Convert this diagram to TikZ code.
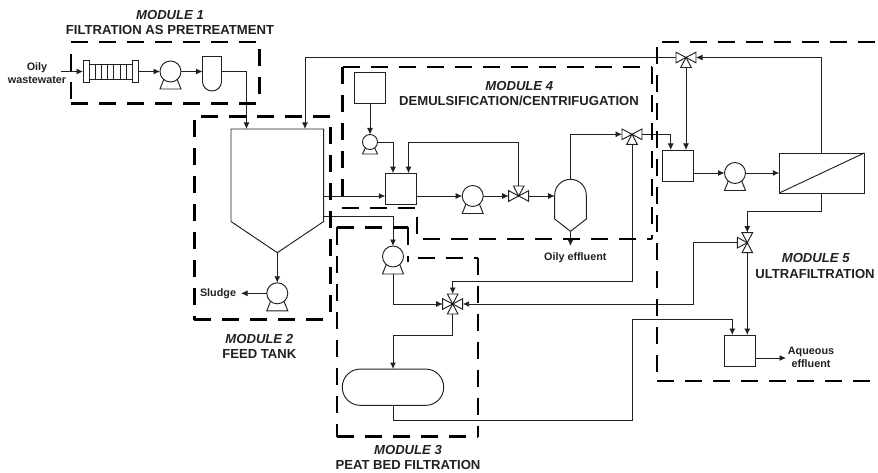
\documentclass[tikz,border=0pt]{standalone}
\usepackage{fontspec}
\setmainfont{Liberation Sans}
\usetikzlibrary{arrows.meta}
\definecolor{ink}{gray}{0.13}
\tikzset{
  x=1pt,y=-1pt,
  pipe/.style={draw=ink,line width=0.95pt},
  flow/.style={pipe,-{Latex[length=6.5pt,width=6pt]}},
  equip/.style={draw=ink,line width=0.95pt,fill=white,inner sep=0pt,outer sep=0pt},
  boxnode/.style={equip,rectangle,minimum width=31pt,minimum height=31pt},
  modline/.style={draw=black,line width=2.2pt,dash pattern=on 17pt off 11pt},
  modtitle/.style={font=\bfseries\fontsize{13.1}{15}\selectfont,text=ink,align=center,inner sep=0pt},
  modnum/.style={font=\bfseries\itshape\fontsize{13.1}{15}\selectfont,text=ink,inner sep=0pt},
  smalltext/.style={font=\bfseries\fontsize{10.8}{13.2}\selectfont,text=ink,align=center,inner sep=0pt},
  valvetri/.style={draw=ink,line width=0.95pt,fill=white},
}
\newcommand{\bigpump}[3]{%
  \draw[equip] (#2-6.5,#3+7.5) -- (#2+6.5,#3+7.5) -- (#2+10.5,#3+17.5) -- (#2-10.5,#3+17.5) -- cycle;
  \node[equip,circle,minimum size=21pt] (#1) at (#2,#3) {};
  \coordinate (#1-base) at (#2,#3+17.5);
}
\newcommand{\smallpump}[3]{%
  \draw[equip] (#2-4.5,#3+5.5) -- (#2+4.5,#3+5.5) -- (#2+7.5,#3+12) -- (#2-7.5,#3+12) -- cycle;
  \node[equip,circle,minimum size=15pt] (#1) at (#2,#3) {};
}
\newcommand{\valvel}[3]{\draw[valvetri] (#2,#3) -- (#2-10,#3-5.3) -- (#2-10,#3+5.3) -- cycle; \coordinate (#1-l) at (#2-10,#3);}
\newcommand{\valver}[3]{\draw[valvetri] (#2,#3) -- (#2+10,#3-5.3) -- (#2+10,#3+5.3) -- cycle; \coordinate (#1-r) at (#2+10,#3);}
\newcommand{\valvet}[3]{\draw[valvetri] (#2,#3) -- (#2-5.3,#3-10) -- (#2+5.3,#3-10) -- cycle; \coordinate (#1-t) at (#2,#3-10);}
\newcommand{\valveb}[3]{\draw[valvetri] (#2,#3) -- (#2-5.3,#3+10) -- (#2+5.3,#3+10) -- cycle; \coordinate (#1-b) at (#2,#3+10);}
\begin{document}
\begin{tikzpicture}
\useasboundingbox (0,0) rectangle (878,473);
\fill[white] (0,0) rectangle (878,473);

% ---------- equipment
% module 1
\draw[equip] (89,64) rectangle (132.5,79.5);
\foreach \vx in {95,101.5,107.5,113.5,120,126} \draw[pipe] (\vx,64) -- (\vx,79.5);
\node[equip,rectangle,minimum width=6pt,minimum height=21.5pt] (flangeL) at (86,71.5) {};
\node[equip,rectangle,minimum width=6pt,minimum height=21.5pt] (flangeR) at (135.5,71.5) {};
\bigpump{p1}{170.5}{71.5}
\draw[equip] (202.5,56.5) [rounded corners=9.5pt] -- (202.5,91) -- (221.5,91) [sharp corners] -- (221.5,56.5) -- cycle;
\coordinate (v1in) at (202.5,71.5);
\coordinate (v1out) at (221.5,71.5);

% module 2
\draw[equip] (231,129) -- (323.7,129) -- (323.7,221.5) -- (277.3,252.7) -- (231,221.5) -- cycle;
\coordinate (tankA) at (246.5,129);
\coordinate (tankB) at (305,129);
\coordinate (tankC) at (323.7,196);
\coordinate (tankD) at (323.7,216);
\coordinate (tankE) at (277.3,252.7);
\bigpump{p2}{277.3}{293.3}

% module 3
\bigpump{p3}{393}{256.5}
\node[equip,rectangle,rounded corners=18pt,minimum width=101.4pt,minimum height=36.3pt] (bed) at (393,387.2) {};

% module 4
\node[boxnode] (supply) at (370,88) {};
\smallpump{p4s}{370}{142}
\node[boxnode] (mix) at (400.8,188.7) {};
\bigpump{p4}{472.7}{196}
\draw[equip] (570.5,231.3) -- (554.7,219) -- (554.7,195) [rounded corners=15.8pt] -- (554.7,179.3) -- (586.3,179.3) [sharp corners] -- (586.3,219) -- cycle;
\coordinate (sepL) at (554.7,196);
\coordinate (sepT) at (570.5,179.3);
\coordinate (sepB) at (570.5,231.3);

% module 5
\node[boxnode] (uf) at (678.2,165.5) {};
\bigpump{p5}{735}{173}
\node[equip,rectangle,minimum width=85pt,minimum height=40pt] (mem) at (821.8,173) {};
\draw[pipe] (mem.south west) -- (mem.north east);
\node[boxnode] (out) at (740.2,350.5) {};

% valves
\valvel{va}{686}{57.5}\valver{va}{686}{57.5}\valveb{va}{686}{57.5}
\valvel{vb}{518.7}{196}\valver{vb}{518.7}{196}\valvet{vb}{518.7}{196}
\valvel{vc}{632}{134.3}\valver{vc}{632}{134.3}\valveb{vc}{632}{134.3}
\valvel{vd}{747.3}{242.7}\valvet{vd}{747.3}{242.7}\valveb{vd}{747.3}{242.7}
\valvel{ve}{452.7}{304}\valver{ve}{452.7}{304}\valvet{ve}{452.7}{304}\valveb{ve}{452.7}{304}

% ---------- free ends
\coordinate (inlet) at (61,71.5);
\coordinate (sludgeEnd) at (241,293.3);
\coordinate (oilyEnd) at (570.5,246);
\coordinate (aqEnd) at (786,358);

% ---------- connectors
\draw[flow] (inlet) -- (flangeL.west);
\draw[flow] (flangeR.east) -- (p1.west);
\draw[flow] (p1.east) -- (v1in);
\draw[flow] (v1out) -| (tankA);
\draw[flow] (va-l) -| (tankB);
\draw[flow] (mem.north) |- (va-r);
\draw[flow] (tankC) -- (mix.west |- tankC);
\draw[flow] (tankD) -| (p3.north);
\draw[flow] (tankE) -- (p2.north);
\draw[flow] (p2.west) -- (sludgeEnd);
\draw[flow] (p3-base) |- (ve-l);
\draw[flow] (ve-b) -- (452.7,335) -| (bed.north);
\draw[flow] (bed.south) -- (393,420) -- (632,420) |- (732.3,319.3) -- (732.3,335);
\draw[flow] (supply.south) -- (p4s.north);
\draw[flow] (p4s.east) -| (393,173.2);
\draw[flow] (vb-t) |- (408.5,142) -- (408.5,173.2);
\draw[flow] (mix.east |- p4.west) -- (p4.west);
\draw[flow] (p4.east) -- (vb-l);
\draw[flow] (vb-r) -- (sepL);
\draw[flow] (sepT) |- (vc-l);
\draw[flow] (sepB) -- (oilyEnd);
\draw[flow] (vc-r) -| (670.7,150);
\draw[flow] (vc-b) |- (452.7,281) -- (ve-t);
\draw[flow] (va-b) -- (686,150);
\draw[flow] (uf.east |- p5.west) -- (p5.west);
\draw[flow] (p5.east) -- (mem.west);
\draw[flow] (mem.south) |- (747.3,211.7) -- (vd-t);
\draw[flow] (vd-l) -| (693.7,304) -- (ve-r);
\draw[flow] (vd-b) -- (747.3,335);
\draw[flow] (out.east |- aqEnd) -- (aqEnd);

% ---------- module frames
\draw[modline] (71,42) -- (257,42);
\draw[modline] (259.5,49) -- (259.5,96);
\draw[modline] (71,103.5) -- (258,103.5);
\draw[modline] (71,54) -- (71,102);

\draw[modline] (201,116.5) -- (331,116.5);
\draw[modline] (194.5,120) -- (194.5,320);
\draw[modline] (194,319.5) -- (328,319.5);
\draw[modline] (330.5,127) -- (330.5,316);

\draw[modline] (342.5,67) -- (342.5,197);
\draw[modline] (342.5,67) -- (652,67);
\draw[modline] (652,67) -- (652,239);
\draw[modline] (423,239) -- (652,239);
\draw[modline] (342,208.3) -- (416,208.3);
\draw[modline] (416.7,217) -- (416.7,235);

\draw[modline] (337,227.5) -- (408,227.5);
\draw[modline] (408,227.5) -- (408,262);
\draw[modline] (418,258.3) -- (477.7,258.3);
\draw[modline] (477.7,258.3) -- (477.7,436.5);
\draw[modline] (337,436.5) -- (478,436.5);
\draw[modline] (337,227.5) -- (337,436.5);

\draw[modline] (662,42) -- (878,42);
\draw[modline] (657,47) -- (657,376);
\draw[modline] (657,381) -- (874,381);

% ---------- text
\node[modnum] (t1a) at (170,15) {MODULE 1};
\node[modtitle] (t1b) at (170,30) {FILTRATION AS PRETREATMENT};
\node[modnum] (t2a) at (259.3,339) {MODULE 2};
\node[modtitle] (t2b) at (259.3,354.3) {FEED TANK};
\node[modnum] (t3a) at (408,450) {MODULE 3};
\node[modtitle] (t3b) at (408,465) {PEAT BED FILTRATION};
\node[modnum] (t4a) at (519.3,86.3) {MODULE 4};
\node[modtitle] (t4b) at (519,101.3) {DEMULSIFICATION/CENTRIFUGATION};
\node[modnum] (t5a) at (815.7,258) {MODULE 5};
\node[modtitle] (t5b) at (815,274) {ULTRAFILTRATION};
\node[smalltext] (oily) at (37,73) {Oily\\wastewater};
\node[smalltext] (sludge) at (218,293.3) {Sludge};
\node[smalltext] (oe) at (575.3,257.3) {Oily effluent};
\node[smalltext] (aq) at (811,357) {Aqueous\\effluent};
\end{tikzpicture}
\end{document}
